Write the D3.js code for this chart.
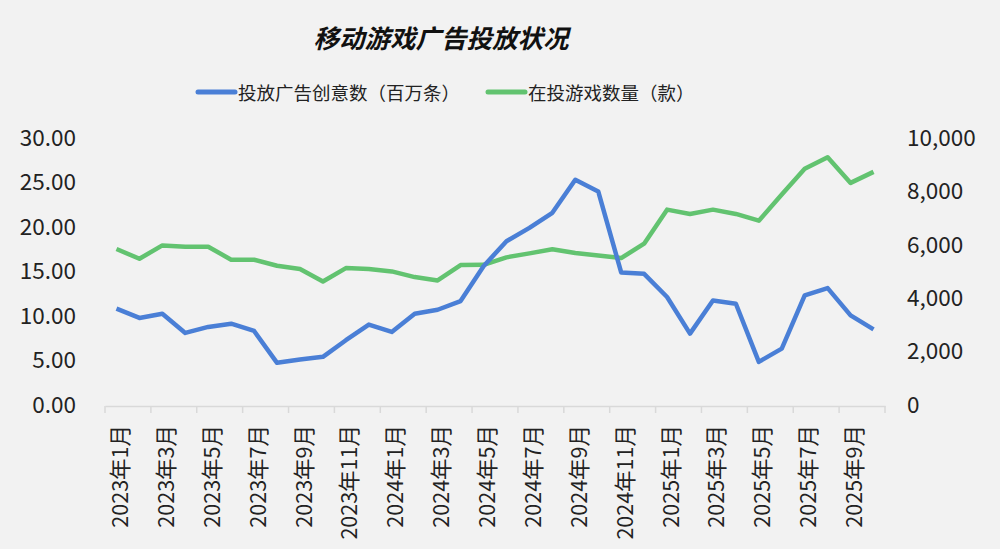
<!DOCTYPE html>
<html><head><meta charset="utf-8">
<script src="https://cdn.jsdelivr.net/npm/d3@7/dist/d3.min.js"></script>
<style>
html,body{margin:0;padding:0;background:#f2f2f2;}
svg{display:block;font-family:"Noto Sans CJK SC","Noto Sans",sans-serif;}
</style></head>
<body><svg id="c" width="1000" height="549"></svg>
<script>
const title = "移动游戏广告投放状况";
const seriesNames = ["投放广告创意数（百万条）", "在投游戏数量（款）"];
const categories = [
 "2023年1月","2023年2月","2023年3月","2023年4月","2023年5月","2023年6月","2023年7月","2023年8月","2023年9月","2023年10月","2023年11月","2023年12月",
 "2024年1月","2024年2月","2024年3月","2024年4月","2024年5月","2024年6月","2024年7月","2024年8月","2024年9月","2024年10月","2024年11月","2024年12月",
 "2025年1月","2025年2月","2025年3月","2025年4月","2025年5月","2025年6月","2025年7月","2025年8月","2025年9月","2025年10月"];
const creatives = [10.83, 9.78, 10.26, 8.10, 8.77, 9.14, 8.32, 4.74, 5.11, 5.41, 7.28, 9.03,
 8.21, 10.26, 10.70, 11.68, 15.6, 18.4, 19.9, 21.6, 25.3, 24.0, 14.9, 14.74,
 12.13, 8.02, 11.75, 11.38, 4.85, 6.34, 12.31, 13.13, 10.07, 8.5];
const games = [5842, 5478, 5977, 5929, 5929, 5441, 5441, 5216, 5091, 4628, 5128, 5091,
 5003, 4791, 4666, 5240, 5250, 5530, 5680, 5830, 5691, 5600, 5503, 6041,
 7317, 7155, 7317, 7155, 6904, 7880, 8844, 9280, 8319, 8732];
const leftTicks = [0, 5, 10, 15, 20, 25, 30];
const rightTicks = [0, 2000, 4000, 6000, 8000, 10000];

const svg = d3.select("#c");
const blue = "#4a7fd6", green = "#62c370";

const x = d3.scaleBand().domain(categories).range([105, 885]);
const yL = d3.scaleLinear().domain([0, 30]).range([405, 138]);
const yR = d3.scaleLinear().domain([0, 10000]).range([405, 138]);

// title
svg.append("text").attr("x", 441).attr("y", 36).attr("text-anchor", "middle")
  .attr("dominant-baseline", "central").attr("font-size", 25.5).attr("font-weight", "bold")
  .attr("font-style", "italic").attr("fill", "#111").text(title);

// legend
const legendPos = [{lx: 198, tx: 238}, {lx: 488, tx: 528}];
[blue, green].forEach((c, i) => {
  svg.append("line").attr("x1", legendPos[i].lx).attr("x2", legendPos[i].lx + 37)
    .attr("y1", 92).attr("y2", 92).attr("stroke", c).attr("stroke-width", 5).attr("stroke-linecap", "round");
  svg.append("text").attr("x", legendPos[i].tx).attr("y", 92).attr("dominant-baseline", "central")
    .attr("font-size", 18.5).attr("fill", "#222").text(seriesNames[i]);
});

// x axis
const xAxis = d3.axisBottom(x).tickSize(0).tickFormat((d, i) => i % 2 === 0 ? d : "");
const gx = svg.append("g").attr("transform", "translate(0,406)").call(xAxis);
gx.select(".domain").attr("stroke", "#d9d9d9").attr("stroke-width", 1.5);
gx.selectAll(".tick text")
  .attr("transform", "rotate(-90)")
  .attr("text-anchor", "end")
  .attr("x", -19).attr("y", 4).attr("dy", "0.35em")
  .attr("font-size", 21.5).attr("fill", "#222").attr("font-family", "'Noto Sans CJK SC',sans-serif");
// tick marks at every second category boundary
const boundaries = d3.range(0, categories.length + 1, 2).map(i => 105 + i * x.step());
svg.append("g").selectAll("line").data(boundaries).join("line")
  .attr("x1", d => d).attr("x2", d => d).attr("y1", 406).attr("y2", 413)
  .attr("stroke", "#d9d9d9").attr("stroke-width", 1.5);

// left axis
const gl = svg.append("g").attr("transform", "translate(76,0)")
  .call(d3.axisLeft(yL).tickValues(leftTicks).tickSize(0).tickFormat(d3.format(".2f")));
gl.select(".domain").remove();
gl.selectAll(".tick text").attr("x", 0).attr("font-size", 22.5).attr("fill", "#222")
  .attr("font-family", "'Noto Sans CJK SC',sans-serif");

// right axis
const gr = svg.append("g").attr("transform", "translate(907,0)")
  .call(d3.axisRight(yR).tickValues(rightTicks).tickSize(0).tickFormat(d3.format(",")));
gr.select(".domain").remove();
gr.selectAll(".tick text").attr("x", 0).attr("font-size", 22.5).attr("fill", "#222")
  .attr("font-family", "'Noto Sans CJK SC',sans-serif");

// lines
const cx = d => x(d) + x.bandwidth() / 2;
svg.append("path").datum(games)
  .attr("d", d3.line().x((d, i) => cx(categories[i])).y(d => yR(d)))
  .attr("fill", "none").attr("stroke", green).attr("stroke-width", 4.5).attr("stroke-linejoin", "round");
svg.append("path").datum(creatives)
  .attr("d", d3.line().x((d, i) => cx(categories[i])).y(d => yL(d)))
  .attr("fill", "none").attr("stroke", blue).attr("stroke-width", 4.5).attr("stroke-linejoin", "round");
</script></body></html>
